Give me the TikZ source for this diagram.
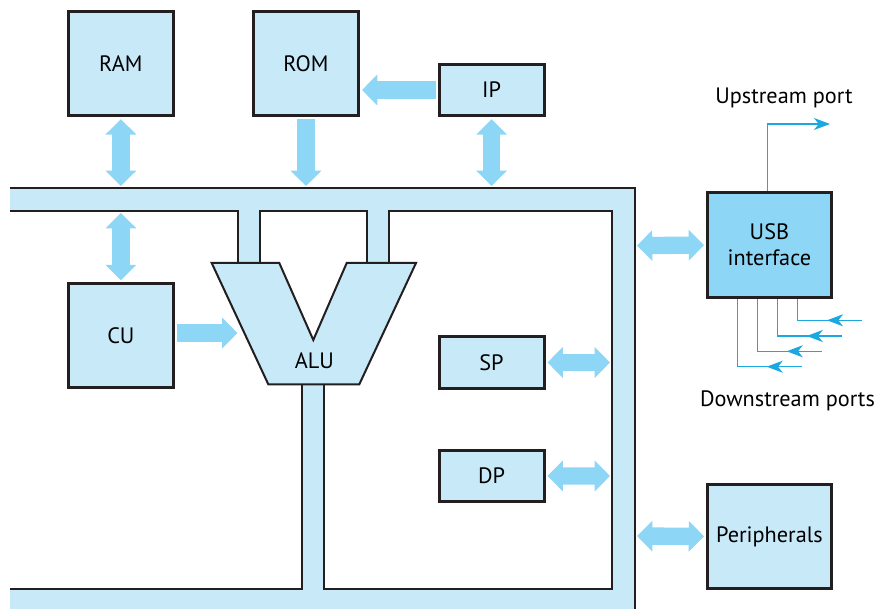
\documentclass[tikz,border=0pt]{standalone}
\usepackage{fontspec}
\setmainfont{PT Sans}
\usetikzlibrary{arrows.meta,decorations.markings}
\definecolor{busblue}{RGB}{200,233,248}
\definecolor{arrblue}{RGB}{141,214,245}
\definecolor{portblue}{RGB}{27,168,224}
\definecolor{edgec}{RGB}{35,31,32}
\begin{document}
\begin{tikzpicture}[x=0.75pt,y=-0.75pt,
  box/.style={draw=edgec, line width=2.25pt, fill=busblue, inner sep=0pt,
    font=\fontsize{16.7}{19.5}\selectfont, align=center},
  fat/.style={draw=arrblue, line width=13pt, shorten <=1.5pt, shorten >=1.5pt,
    -{Triangle[length=11.5pt,width=22.5pt]}},
  fatboth/.style={fat, {Triangle[length=11.5pt,width=22.5pt]}-{Triangle[length=11.5pt,width=22.5pt]}},
  busline/.style={draw=edgec, line width=1.5pt},
  port/.style={color=portblue, line width=1pt},
  porttip/.style={-{Stealth[length=12pt,width=9pt,inset=3.5pt]}},
  lbl/.style={font=\fontsize{16.7}{19.5}\selectfont, inner sep=0pt}]
\useasboundingbox (0,0) rectangle (881,609);

% bus
\fill[busblue] (10,188) -- (635,188) -- (635,609) -- (10,609) -- (10,589) -- (302,589)
  -- (302,384) -- (324,384) -- (324,589) -- (612,589) -- (612,211) -- (389,211)
  -- (389,263) -- (367,263) -- (367,211) -- (260,211) -- (260,263) -- (238,263)
  -- (238,211) -- (10,211) -- cycle;
\draw[busline] (10,188) -- (635,188) -- (635,609);
\draw[busline] (10,211) -- (238,211) -- (238,263);
\draw[busline] (260,263) -- (260,211) -- (367,211) -- (367,263);
\draw[busline] (389,263) -- (389,211) -- (612,211) -- (612,589) -- (324,589) -- (324,384);
\draw[busline] (302,384) -- (302,589) -- (10,589);

% ALU
\draw[busline, fill=busblue] (211.7,263) -- (279.3,263) -- (313.3,340) -- (346.7,263)
  -- (416,263) -- (359.3,384.3) -- (268.3,384.3) -- cycle;
\node[lbl] (alu) at (314.3,360.7) {ALU};
\coordinate (aluin) at (239.5,333);

% boxes
\node[box, minimum width=78.75pt, minimum height=78pt] (ram) at (120.9,63.7) {RAM};
\node[box, minimum width=78.75pt, minimum height=78pt] (rom) at (306,63.7) {ROM};
\node[box, minimum width=78.75pt, minimum height=38.7pt] (ip) at (491.6,90) {IP};
\node[box, minimum width=78.75pt, minimum height=78pt] (cu) at (120.9,335.7) {CU};
\node[box, minimum width=78.75pt, minimum height=39pt] (sp) at (491.5,362.5) {SP};
\node[box, minimum width=78.75pt, minimum height=38.5pt] (dp) at (491.5,475.9) {DP};
\node[box, fill=arrblue, minimum width=92.8pt, minimum height=78.75pt] (usb) at (769.4,245) {USB\\interface};
\node[box, minimum width=92.8pt, minimum height=78pt] (per) at (769.4,536.4) {Peripherals};

% bus contact points
\coordinate (bt1) at (120.9,188);
\coordinate (bt2) at (306,188);
\coordinate (bt3) at (491.6,188);
\coordinate (bi1) at (120.9,211);
\coordinate (br1) at (612,362.5);
\coordinate (br2) at (612,476);
\coordinate (bo1) at (635,245.7);
\coordinate (bo2) at (635,536);

% block arrows
\draw[fatboth] (ram.south) -- (bt1);
\draw[fat] (rom.south) -- (bt2);
\draw[fatboth] (ip.south) -- (bt3);
\draw[fat] (ip.west) -- (ip.west -| rom.east);
\draw[fatboth] (bi1) -- (cu.north);
\draw[fat] (cu.east |- aluin) -- (aluin);
\draw[fatboth] (sp.east) -- (br1);
\draw[fatboth] (dp.east) -- (br2);
\draw[fatboth] (bo1) -- (usb.west);
\draw[fatboth] (bo2) -- (per.west);

% USB ports
\coordinate (up) at (767.7,124);
\coordinate (upend) at (830,124);
\draw[port, porttip] (usb.north -| up) -- (up) -- (upend);
\foreach \i/\x/\y/\e in {1/737.3/366.7/801.7, 2/757.3/351.3/821.7, 3/777.7/336/841.7, 4/797.7/320.3/862} {
  \coordinate (dc\i) at (\x,\y);
  \coordinate (de\i) at (\e,\y);
  \draw[port, postaction={decorate}, decoration={markings,
     mark=at position 26.25pt with {\arrow{Stealth[length=12pt,width=9pt,inset=3.5pt]}}}]
     (de\i) -- (dc\i) -- (dc\i |- usb.south);
}
\node[lbl, anchor=base] (upl) at (784,103.5) {Upstream port};
\node[lbl, anchor=base] (dnl) at (787.5,406) {Downstream ports};
\end{tikzpicture}
\end{document}
